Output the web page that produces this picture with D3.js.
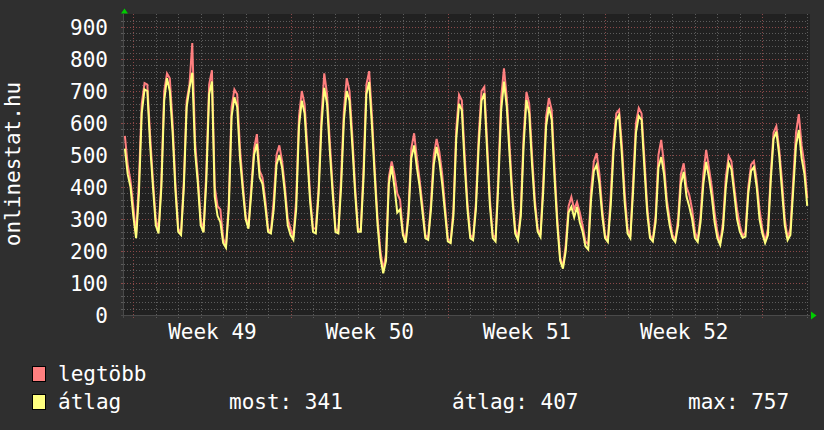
<!DOCTYPE html>
<html><head><meta charset="utf-8">
<script src="https://cdn.jsdelivr.net/npm/d3@7"></script>
<style>
body{margin:0;background:#2f2f2f}
svg{display:block}
text{font-family:"DejaVu Sans Mono",monospace}
</style>
</head><body>
<svg id="c" width="824" height="430"></svg>
<script>
// ---- data (3-hour samples, first sample Sun 30 Nov 15:00, last Wed 31 Dec 00:00) ----
const startHour = -9;      // hours relative to Monday 1 Dec 00:00
const stepHours = 3;
const maxValues = [
  560,470,420,
  340,250,420,660,725,720,560,420,
  300,265,420,700,755,740,600,410,
  270,255,420,670,720,850,540,430,
  300,260,450,720,765,400,340,330,
  240,215,350,650,705,690,520,410,
  310,275,400,520,565,450,430,360,
  270,260,360,500,530,480,400,300,
  270,245,360,620,700,660,520,370,
  270,270,400,620,755,690,540,400,
  270,260,430,640,740,700,560,400,
  270,265,460,720,762,620,450,300,
  200,140,190,430,480,440,380,360,
  260,230,330,520,568,490,420,340,
  250,240,350,500,550,510,440,340,
  240,230,330,580,688,670,500,350,
  250,240,350,560,700,713,540,360,
  250,240,440,680,771,680,530,380,
  270,240,330,560,697,660,500,360,
  270,250,420,620,678,640,460,300,
  180,150,220,340,369,330,353,320,
  280,230,220,390,480,506,440,330,
  250,235,370,540,630,641,530,380,
  270,245,420,600,647,630,490,340,
  250,235,310,500,547,470,360,300,
  250,235,300,440,474,400,375,330,
  260,235,310,440,516,460,400,320,
  260,225,290,430,497,480,400,330,
  280,245,260,400,470,481,420,330,
  270,230,270,440,570,590,520,420,
  300,240,270,420,570,628,530,470,
  365
];
const avgValues = [
  520,440,400,
  310,240,380,630,705,700,530,400,
  280,255,400,670,740,700,570,390,
  260,250,400,650,710,757,510,410,
  280,258,420,690,730,370,310,290,
  225,210,330,620,680,650,490,390,
  300,270,380,500,535,430,410,340,
  260,255,330,470,500,460,380,280,
  250,235,330,590,670,630,490,350,
  260,255,380,590,710,660,510,380,
  260,255,400,610,700,670,530,380,
  260,260,430,690,728,590,430,280,
  180,130,170,410,465,400,320,330,
  250,225,310,490,530,460,400,320,
  240,235,330,470,525,480,410,320,
  230,225,310,550,660,640,470,330,
  240,234,330,530,670,693,510,340,
  240,230,410,640,729,650,500,360,
  255,234,310,530,672,630,470,340,
  260,244,390,590,650,610,430,280,
  170,145,200,320,338,305,338,290,
  260,215,205,360,450,469,410,310,
  240,228,340,510,610,625,500,350,
  255,240,390,570,622,610,460,320,
  240,230,290,460,494,440,340,280,
  240,228,280,410,447,370,338,300,
  240,228,290,410,478,430,370,290,
  240,219,270,400,475,455,380,300,
  260,241,245,380,450,462,400,300,
  255,225,250,420,550,573,500,390,
  280,234,250,390,530,578,490,440,
  341
];
const yTicks = [0,100,200,300,400,500,600,700,800,900];
const weekLabels = ["Week 49","Week 50","Week 51","Week 52"];
const seriesNames = ["legtöbb","átlag"];
const seriesColors = ["#ff7f7f","#ffff7f"];
const statLabels = ["most: 341","átlag: 407","max: 757"];
const yTitle = "onlinestat.hu";

// ---- layout ----
const H = 3600e3;
const base = Date.UTC(2008,11,1); // Monday, week 49
const plotL = 124, plotR = 808, plotT = 14, plotB = 315;

const svg = d3.select("#c");
svg.append("rect").attr("width",824).attr("height",430).attr("fill","#2f2f2f");
svg.append("rect").attr("x",plotL).attr("y",plotT).attr("width",plotR-plotL+2).attr("height",plotB-plotT)
  .attr("fill","#212121");

const x = d3.scaleUtc().domain([new Date(base-9.94*H), new Date(base+720.8*H)]).range([plotL, plotR]);
const y = d3.scaleLinear().domain([0,900]).range([plotB, 27]);

const minorCol = "#5c5c5c", majorCol = "#8a4848";
const g = svg.append("g");

// horizontal grid
const hMinor = d3.range(20, 940, 20).filter(v => v % 100 !== 0);
g.selectAll(".hmin").data(hMinor).join("line")
  .attr("x1",plotL).attr("x2",plotR).attr("y1",d=>Math.round(y(d))+0.5).attr("y2",d=>Math.round(y(d))+0.5)
  .attr("stroke",minorCol).attr("stroke-dasharray","1,2");
g.selectAll(".hmaj").data(yTicks.filter(v=>v>0)).join("line")
  .attr("x1",plotL).attr("x2",plotR).attr("y1",d=>Math.round(y(d))+0.5).attr("y2",d=>Math.round(y(d))+0.5)
  .attr("stroke",majorCol).attr("stroke-dasharray","1,2");
// left small ticks
g.selectAll(".ltick").data(d3.range(20,940,20)).join("line")
  .attr("x1",plotL-3).attr("x2",plotL).attr("y1",d=>Math.round(y(d))+0.5).attr("y2",d=>Math.round(y(d))+0.5)
  .attr("stroke",d=>d%100===0?majorCol:minorCol);

// vertical grid
const [d0,d1] = x.domain();
const days = d3.utcDay.range(d0, d1);
const mondays = d3.utcMonday.range(d0, d1);
const isMon = d => d.getUTCDay() === 1;
g.selectAll(".vmin").data(days.filter(d=>!isMon(d))).join("line")
  .attr("x1",d=>Math.round(x(d))+0.5).attr("x2",d=>Math.round(x(d))+0.5).attr("y1",plotT).attr("y2",plotB+3)
  .attr("stroke",minorCol).attr("stroke-dasharray","1,2");
g.selectAll(".vmaj").data(mondays).join("line")
  .attr("x1",d=>Math.round(x(d))+0.5).attr("x2",d=>Math.round(x(d))+0.5).attr("y1",plotT).attr("y2",plotB+3)
  .attr("stroke",majorCol).attr("stroke-dasharray","1,2");

// axis lines
svg.append("line").attr("x1",plotL-3).attr("x2",plotR+2).attr("y1",plotB+0.5).attr("y2",plotB+0.5).attr("stroke","#4a4a4a");
svg.append("line").attr("x1",plotL-0.5).attr("x2",plotL-0.5).attr("y1",plotT).attr("y2",plotB+3).attr("stroke","#4a4a4a");

// series
const pts = vals => vals.map((v,i)=>({t:new Date(base+(startHour+i*stepHours)*H), v}));
const line = d3.line().x(d=>x(d.t)).y(d=>y(d.v)).curve(d3.curveLinear);
[maxValues, avgValues].forEach((vals,k)=>{
  svg.append("path").datum(pts(vals)).attr("d",line).attr("fill","none")
    .attr("stroke",seriesColors[k]).attr("stroke-width",2).attr("stroke-linejoin","miter");
});

// y axis labels
const yAxis = d3.axisLeft(y).tickValues(yTicks).tickSize(0).tickPadding(16);
const ya = svg.append("g").attr("transform",`translate(${plotL},0)`).call(yAxis);
ya.select(".domain").remove();
ya.selectAll("text").attr("fill","#ffffff").style("font-size","21px").attr("dy","0.36em");

// x axis labels at week centres
const labelDates = mondays.slice(0, weekLabels.length).map(d=>new Date(+d + 3.5*24*H));
const xAxis = d3.axisBottom(x).tickValues(labelDates).tickSize(0).tickPadding(9)
  .tickFormat((d,i)=>weekLabels[i]);
const xa = svg.append("g").attr("transform",`translate(0,${plotB})`).call(xAxis);
xa.select(".domain").remove();
xa.selectAll("text").attr("fill","#ffffff").style("font-size","21px");

// y title
svg.append("text").attr("transform","translate(20,164) rotate(-90)").attr("text-anchor","middle")
  .attr("fill","#ffffff").style("font-size","21px").text(yTitle);

// arrows
svg.append("path").attr("d","M124.5,8.5 L121,13.5 L128,13.5 Z").attr("fill","#00cc00");
svg.append("path").attr("d","M811,311.5 L816.5,315.5 L811,319.5 Z").attr("fill","#00cc00");

// legend
const legY = [366, 394];
seriesNames.forEach((n,k)=>{
  svg.append("rect").attr("x",32.5).attr("y",legY[k]+0.5).attr("width",13).attr("height",15)
    .attr("fill",seriesColors[k]).attr("stroke","#000").attr("stroke-width",1);
  svg.append("text").attr("x",58).attr("y",legY[k]+15).attr("fill","#fff").style("font-size","21px").text(n);
});
const statX = [229, 452, 688];
statLabels.forEach((s,i)=>{
  svg.append("text").attr("x",statX[i]).attr("y",legY[1]+15).attr("fill","#fff").style("font-size","21px").text(s);
});
</script>
</body></html>
